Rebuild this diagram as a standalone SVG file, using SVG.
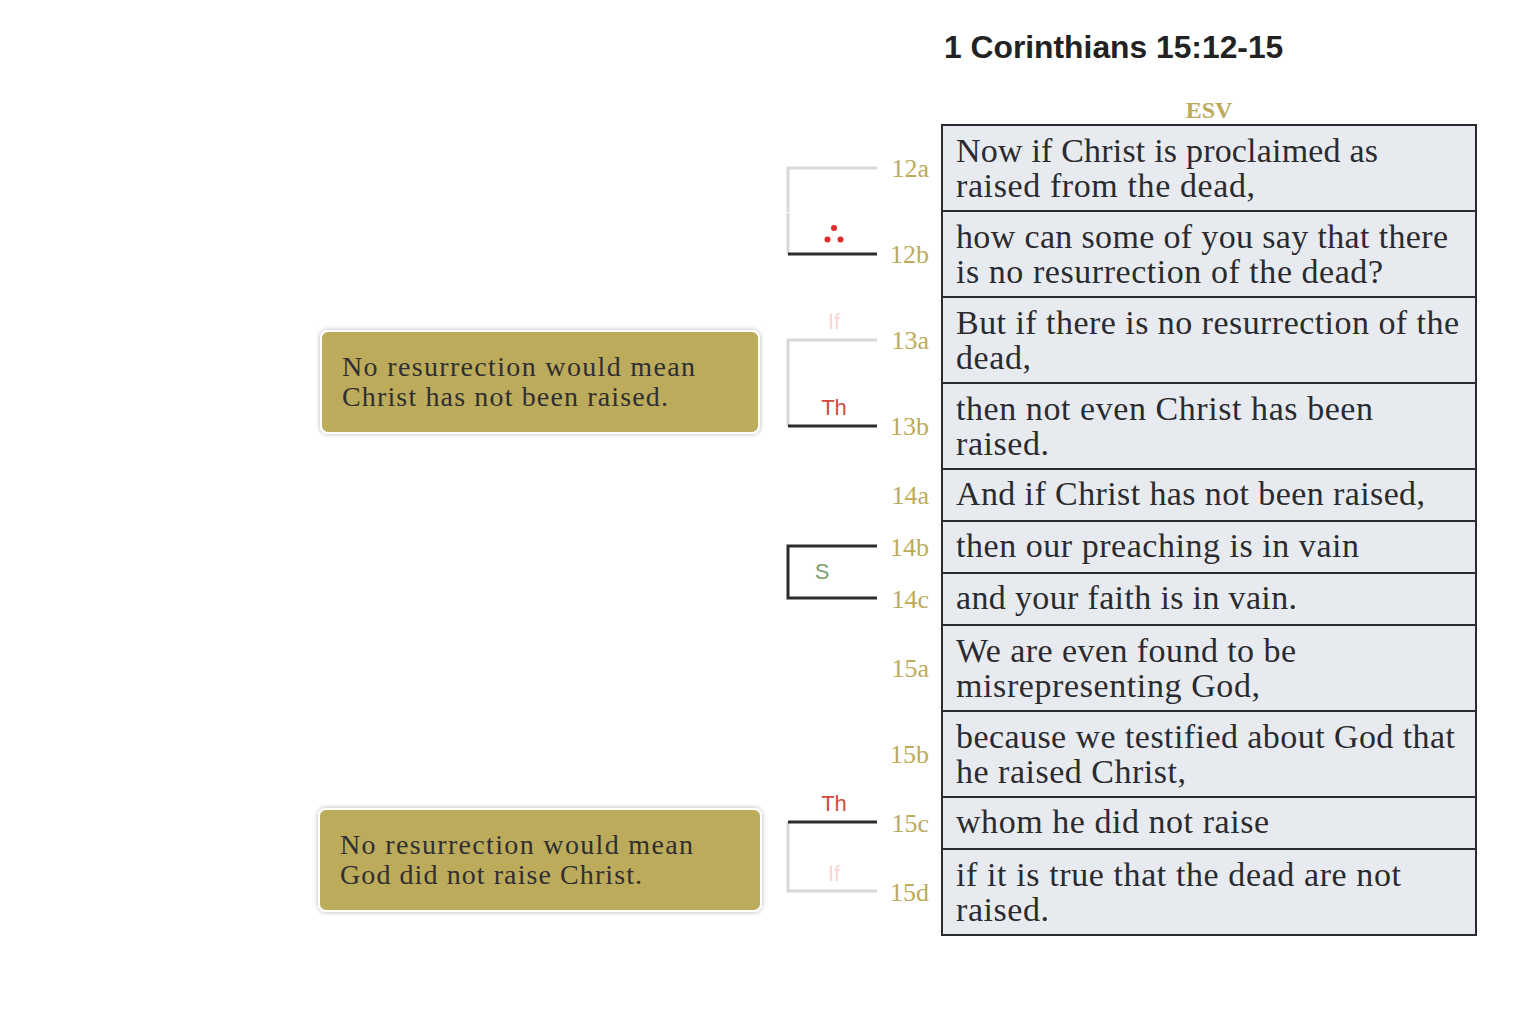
<svg xmlns="http://www.w3.org/2000/svg" width="1538" height="1016" viewBox="0 0 1538 1016">
<defs>
<filter id="sh" x="-10%" y="-20%" width="120%" height="140%">
<feDropShadow dx="0" dy="0" stdDeviation="2.5" flood-color="#000" flood-opacity="0.3"/>
</filter>
<style>
.row{fill:#e7ebf0;stroke:#2b2b2f;stroke-width:2}
.vt{font-family:"Liberation Serif","Times New Roman",serif;font-size:34px;fill:#2b2b2f}
.lb{font-family:"Liberation Serif","Times New Roman",serif;font-size:26px;fill:#bcab5b;text-anchor:end}
.bx{fill:#bcab5a;stroke:#fff;stroke-width:2}
.bt{font-family:"Liberation Serif","Times New Roman",serif;font-size:28px;fill:#2f2f33}
.g{stroke:#d9d9d9;stroke-width:3;fill:none}
.d{stroke:#2b2b2f;stroke-width:3;fill:none}
.rel{font-family:"Liberation Sans",Arial,sans-serif;font-size:22px;text-anchor:middle}
</style>
</defs>
<rect width="1538" height="1016" fill="#fff"/>
<text x="944" y="58" font-family="'Liberation Sans',Arial,sans-serif" font-weight="bold" font-size="31.8" fill="#222">1 Corinthians 15:12-15</text>
<text x="1209" y="118" font-family="'Liberation Serif','Times New Roman',serif" font-weight="bold" font-size="24" fill="#bcab5b" text-anchor="middle">ESV</text>

<g id="v12a"><rect class="row" x="942" y="125" width="534" height="86"/><text class="vt" x="956" y="162" textLength="422">Now if Christ is proclaimed as</text><text class="vt" x="956" y="197" textLength="299">raised from the dead,</text><text class="lb" x="929" y="177">12a</text></g>
<g id="v12b"><rect class="row" x="942" y="211" width="534" height="86"/><text class="vt" x="956" y="248" textLength="492">how can some of you say that there</text><text class="vt" x="956" y="283" textLength="427">is no resurrection of the dead?</text><text class="lb" x="929" y="263">12b</text></g>
<g id="v13a"><rect class="row" x="942" y="297" width="534" height="86"/><text class="vt" x="956" y="334" textLength="503">But if there is no resurrection of the</text><text class="vt" x="956" y="369" textLength="75">dead,</text><text class="lb" x="929" y="349">13a</text></g>
<g id="v13b"><rect class="row" x="942" y="383" width="534" height="86"/><text class="vt" x="956" y="420" textLength="417">then not even Christ has been</text><text class="vt" x="956" y="455" textLength="93">raised.</text><text class="lb" x="929" y="435">13b</text></g>
<g id="v14a"><rect class="row" x="942" y="469" width="534" height="52"/><text class="vt" x="956" y="505" textLength="469">And if Christ has not been raised,</text><text class="lb" x="929" y="504">14a</text></g>
<g id="v14b"><rect class="row" x="942" y="521" width="534" height="52"/><text class="vt" x="956" y="557" textLength="403">then our preaching is in vain</text><text class="lb" x="929" y="556">14b</text></g>
<g id="v14c"><rect class="row" x="942" y="573" width="534" height="52"/><text class="vt" x="956" y="609" textLength="341">and your faith is in vain.</text><text class="lb" x="929" y="608">14c</text></g>
<g id="v15a"><rect class="row" x="942" y="625" width="534" height="86"/><text class="vt" x="956" y="662" textLength="340">We are even found to be</text><text class="vt" x="956" y="697" textLength="304">misrepresenting God,</text><text class="lb" x="929" y="677">15a</text></g>
<g id="v15b"><rect class="row" x="942" y="711" width="534" height="86"/><text class="vt" x="956" y="748" textLength="499">because we testified about God that</text><text class="vt" x="956" y="783" textLength="230">he raised Christ,</text><text class="lb" x="929" y="763">15b</text></g>
<g id="v15c"><rect class="row" x="942" y="797" width="534" height="52"/><text class="vt" x="956" y="833" textLength="313">whom he did not raise</text><text class="lb" x="929" y="832">15c</text></g>
<g id="v15d"><rect class="row" x="942" y="849" width="534" height="86"/><text class="vt" x="956" y="886" textLength="445">if it is true that the dead are not</text><text class="vt" x="956" y="921" textLength="93">raised.</text><text class="lb" x="929" y="901">15d</text></g>

<g id="note1"><rect class="bx" x="321" y="331" width="438" height="102" rx="7" filter="url(#sh)"/><text class="bt" x="342" y="376" textLength="353">No resurrection would mean</text><text class="bt" x="342" y="406" textLength="326">Christ has not been raised.</text></g>
<g id="note2"><rect class="bx" x="319" y="809" width="442" height="102" rx="7" filter="url(#sh)"/><text class="bt" x="340" y="854" textLength="353">No resurrection would mean</text><text class="bt" x="340" y="884" textLength="302">God did not raise Christ.</text></g>

<g id="connectors">
<path class="g" d="M877 168H788V212"/>
<path class="g" d="M788 213V254"/>
<path class="d" d="M788 254H877"/>
<circle cx="834" cy="228" r="3" fill="#e02b2b"/>
<circle cx="827.5" cy="239.5" r="3" fill="#e02b2b"/>
<circle cx="840.5" cy="239.5" r="3" fill="#e02b2b"/>

<path class="g" d="M877 340H788V426"/>
<path class="d" d="M788 426H877"/>
<text class="rel" x="834" y="329" fill="#f6d6d3">If</text>
<text class="rel" x="834" y="415" fill="#d04a40">Th</text>

<path class="d" d="M877 546H788V598H877"/>
<text class="rel" x="822" y="579" fill="#7da070">S</text>

<path class="g" d="M788 822V891H877"/>
<path class="d" d="M788 822H877"/>
<text class="rel" x="834" y="811" fill="#d04a40">Th</text>
<text class="rel" x="834" y="881" fill="#f6d6d3">If</text>
</g>
</svg>
